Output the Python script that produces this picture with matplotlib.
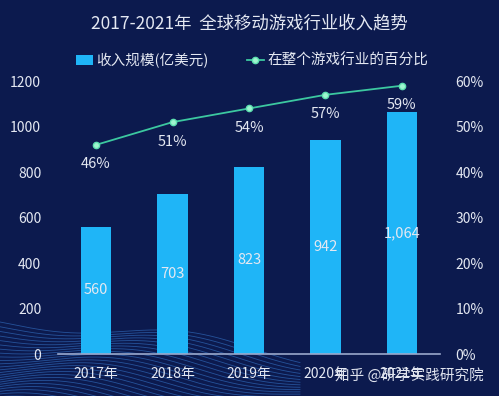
import matplotlib.pyplot as plt
import numpy as np

plt.rcParams['font.family'] = ['Noto Sans CJK SC', 'DejaVu Sans']

# data
years = ['2017年', '2018年', '2019年', '2020年', '2021年']
revenue = [560, 703, 823, 942, 1064]
revenue_labels = ['560', '703', '823', '942', '1,064']
share = [46, 51, 54, 57, 59]

bg = '#0c1a4e'
bar_color = '#1fb5f7'
line_color = '#3cc8a0'
text_color = '#e4e8f2'

fig = plt.figure(figsize=(4.99, 3.96), dpi=100, facecolor=bg)

# decorative wave lines in the bottom-left corner
ax_bg = fig.add_axes([0, 0, 1, 1], zorder=0)
ax_bg.set_xlim(0, 499)
ax_bg.set_ylim(396, 0)
ax_bg.axis('off')
xs = np.linspace(0, 300, 200)
for k in range(24):
    ys = 322 + k * 3.5 + 34 * (xs / 300) ** 1.5 + 7 * np.sin(xs / 40 + k * 0.18)
    ax_bg.plot(xs, ys, color='#3a80d8', lw=0.6, alpha=0.55)

ax = fig.add_axes([0.116, 0.106, 0.766, 0.689], zorder=2)
ax.set_facecolor('none')
x = np.arange(len(years))

bars = ax.bar(x, revenue, width=0.4, color=bar_color, zorder=2, label='收入规模(亿美元)')
for xi, v, lab in zip(x, revenue, revenue_labels):
    ax.text(xi, v / 2, lab, ha='center', va='center', color=text_color, fontsize=10.5, zorder=3)

ax.set_xlim(-0.5, 4.5)
ax.set_ylim(0, 1200)
ax.set_yticks(range(0, 1201, 200))
ax.set_xticks(x)
ax.set_xticklabels(years)
ax.tick_params(axis='both', length=0, colors=text_color, labelsize=10)
ax.tick_params(axis='y', pad=12)
ax.tick_params(axis='x', pad=9)
for s in ['top', 'right', 'left']:
    ax.spines[s].set_visible(False)
ax.spines['bottom'].set_color('#9aa8cc')
ax.spines['bottom'].set_linewidth(1.2)

ax2 = ax.twinx()
ax2.set_ylim(0, 60)
ax2.set_yticks(range(0, 61, 10))
ax2.set_yticklabels([f'{v}%' for v in range(0, 61, 10)])
ax2.tick_params(axis='y', length=0, colors=text_color, labelsize=10, pad=11)
for s in ax2.spines.values():
    s.set_visible(False)
line, = ax2.plot(x, share, color=line_color, lw=1.3, marker='o', markersize=4.5,
                 markerfacecolor='#9ff5d0', markeredgecolor='#5ee0b0', zorder=4,
                 label='在整个游戏行业的百分比')
for xi, v in zip(x, share):
    ax2.annotate(f'{v}%', (xi, v), xytext=(0, -14), textcoords='offset points',
                 ha='center', va='center', color=text_color, fontsize=10.5)

fig.text(0.5, 0.94, '2017-2021年  全球移动游戏行业收入趋势', ha='center', va='center',
         color=text_color, fontsize=12.5)
fig.legend([bars, line], ['收入规模(亿美元)', '在整个游戏行业的百分比'],
           loc='center', bbox_to_anchor=(0.505, 0.848), ncol=2, frameon=False,
           fontsize=10.5, labelcolor=text_color, handlelength=1.2, handletextpad=0.2,
           columnspacing=2.6)

fig.text(0.97, 0.052, '知乎 @研学实践研究院', ha='right', va='center',
         color='#dfe3ee', fontsize=10.5, zorder=5)

fig.savefig('out.png', dpi=100, facecolor=bg)
